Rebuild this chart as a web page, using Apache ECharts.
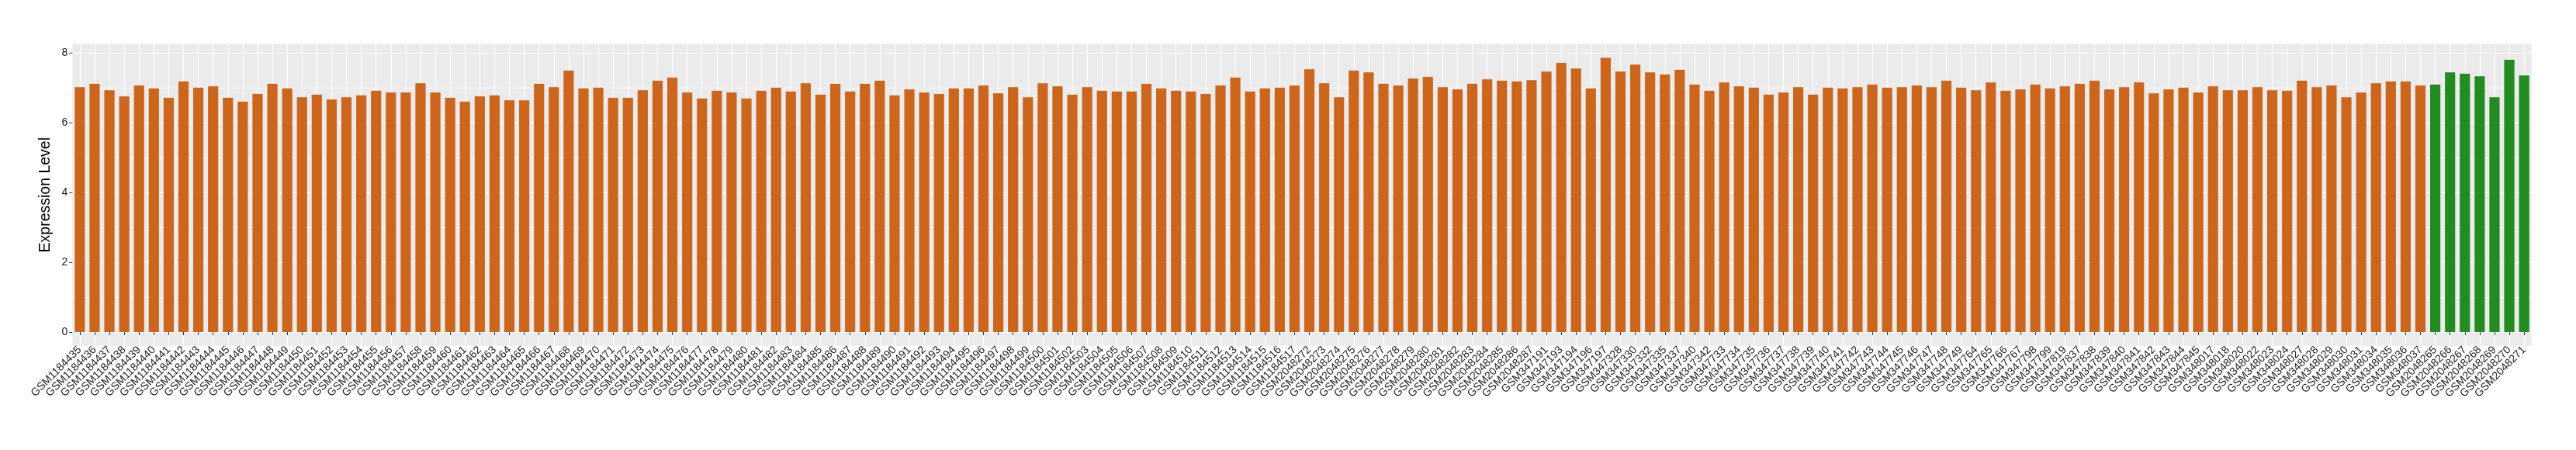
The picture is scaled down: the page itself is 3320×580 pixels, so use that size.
<!DOCTYPE html>
<html>
<head>
<meta charset="utf-8">
<script src="https://cdn.jsdelivr.net/npm/echarts@6/dist/echarts.min.js"></script>
<style>
html,body{margin:0;padding:0;background:#fff;}
#chart{width:3320px;height:580px;}
</style>
</head>
<body>
<div id="chart"></div>
<script>
// ---- data ----
const categories = [
  "GSM1184435","GSM1184436","GSM1184437","GSM1184438","GSM1184439","GSM1184440","GSM1184441","GSM1184442","GSM1184443","GSM1184444",
  "GSM1184445","GSM1184446","GSM1184447","GSM1184448","GSM1184449","GSM1184450","GSM1184451","GSM1184452","GSM1184453","GSM1184454",
  "GSM1184455","GSM1184456","GSM1184457","GSM1184458","GSM1184459","GSM1184460","GSM1184461","GSM1184462","GSM1184463","GSM1184464",
  "GSM1184465","GSM1184466","GSM1184467","GSM1184468","GSM1184469","GSM1184470","GSM1184471","GSM1184472","GSM1184473","GSM1184474",
  "GSM1184475","GSM1184476","GSM1184477","GSM1184478","GSM1184479","GSM1184480","GSM1184481","GSM1184482","GSM1184483","GSM1184484",
  "GSM1184485","GSM1184486","GSM1184487","GSM1184488","GSM1184489","GSM1184490","GSM1184491","GSM1184492","GSM1184493","GSM1184494",
  "GSM1184495","GSM1184496","GSM1184497","GSM1184498","GSM1184499","GSM1184500","GSM1184501","GSM1184502","GSM1184503","GSM1184504",
  "GSM1184505","GSM1184506","GSM1184507","GSM1184508","GSM1184509","GSM1184510","GSM1184511","GSM1184512","GSM1184513","GSM1184514",
  "GSM1184515","GSM1184516","GSM1184517",
  "GSM2048272","GSM2048273","GSM2048274","GSM2048275","GSM2048276","GSM2048277","GSM2048278","GSM2048279","GSM2048280","GSM2048281",
  "GSM2048282","GSM2048283","GSM2048284","GSM2048285","GSM2048286","GSM2048287",
  "GSM347191","GSM347193","GSM347194","GSM347196","GSM347197",
  "GSM347328","GSM347330","GSM347332","GSM347335","GSM347337","GSM347340","GSM347342",
  "GSM347733","GSM347734","GSM347735","GSM347736","GSM347737","GSM347738","GSM347739","GSM347740","GSM347741","GSM347742",
  "GSM347743","GSM347744","GSM347745","GSM347746","GSM347747","GSM347748","GSM347749",
  "GSM347764","GSM347765","GSM347766","GSM347767",
  "GSM347798","GSM347799","GSM347819",
  "GSM347837","GSM347838","GSM347839","GSM347840","GSM347841","GSM347842","GSM347843","GSM347844","GSM347845",
  "GSM348017","GSM348018","GSM348020","GSM348022","GSM348023","GSM348024","GSM348027","GSM348028","GSM348029","GSM348030",
  "GSM348031","GSM348034","GSM348035","GSM348036","GSM348037",
  "GSM2048265","GSM2048266","GSM2048267","GSM2048268","GSM2048269","GSM2048270","GSM2048271"
];

// first group (orange), in category order
const orangeValues = [
  7.03,7.12,6.94,6.76,7.07,6.99,6.72,7.19,7.01,7.05,
  6.72,6.61,6.83,7.12,6.99,6.74,6.81,6.67,6.74,6.79,
  6.92,6.87,6.87,7.14,6.87,6.72,6.61,6.76,6.79,6.65,
  6.65,7.12,7.03,7.50,6.99,7.01,6.72,6.72,6.94,7.21,
  7.30,6.87,6.70,6.92,6.87,6.70,6.92,7.01,6.90,7.14,
  6.81,7.12,6.90,7.12,7.21,6.79,6.96,6.87,6.83,6.99,
  6.99,7.07,6.85,7.03,6.74,7.14,7.05,6.81,7.03,6.92,
  6.90,6.90,7.12,6.99,6.92,6.90,6.83,7.07,7.30,6.90,
  6.99,7.01,7.07,
  7.54,7.14,6.74,7.50,7.45,7.12,7.07,7.27,7.32,7.03,
  6.96,7.12,7.25,7.21,7.19,7.23,7.47,7.72,7.56,6.99,
  7.87,7.47,7.67,7.45,7.39,7.52,7.10,6.92,7.16,7.05,
  7.01,6.81,6.87,7.03,6.81,7.01,6.99,7.03,7.10,7.01,
  7.03,7.07,
  7.03,7.21,7.01,6.94,7.16,6.92,6.96,7.10,6.99,7.05,
  7.12,7.21,6.96,7.03,7.16,6.85,6.96,7.01,6.87,7.05,
  6.94,6.94,7.03,6.94,6.92,7.21,7.03,7.07,6.74,6.87,
  7.14,7.19,7.19,7.07
];
// second group (green), last categories
const greenValues = [7.10,7.45,7.41,7.34,6.74,7.81,7.36];

const yMajorTicks = [0,2,4,6,8];
const yMinorTicks = [1,3,5,7];

// ---- styles ----
const ORANGE = '#CD661D';
const GREEN = '#228B22';
const FONT = 'Liberation Sans';

const allValues = orangeValues.concat(greenValues);
const dataMax = Math.max.apply(null, allValues);
const pad = dataMax * 0.05;
const yMin = -pad, yMax = dataMax + pad;

const seriesData = allValues.map((v, i) => ({
  value: v,
  itemStyle: { color: i < orangeValues.length ? ORANGE : GREEN }
}));

const chart = echarts.init(document.getElementById('chart'), null, {renderer: 'canvas'});
chart.setOption({
  animation: false,
  backgroundColor: '#ffffff',
  grid: {
    left: 93.3, right: 57.3, top: 56.7, bottom: 134.3,
    show: true, backgroundColor: '#EBEBEB', borderWidth: 0
  },
  xAxis: {
    type: 'category',
    data: categories,
    boundaryGap: true,
    axisLine: { show: false },
    axisTick: { show: true, alignWithLabel: true, interval: 0, length: 4, lineStyle: { color: '#333333', width: 1 } },
    axisLabel: { interval: 0, rotate: 45, fontSize: 14, color: '#1A1A1A', margin: 3, fontFamily: FONT },
    splitLine: { show: true, interval: 0, alignWithLabel: true, lineStyle: { color: '#FFFFFF', width: 1.1 } }
  },
  yAxis: [
    {
      type: 'value', min: yMin, max: yMax,
      axisLine: { show: false },
      axisTick: { show: true, length: 4, customValues: yMajorTicks, lineStyle: { color: '#333333', width: 1 } },
      axisLabel: { customValues: yMajorTicks, fontSize: 14, color: '#1A1A1A', margin: 6, fontFamily: FONT },
      splitLine: { show: true, customValues: yMajorTicks, lineStyle: { color: '#FFFFFF', width: 1.1 } },
      name: 'Expression Level', nameLocation: 'middle', nameGap: 18,
      nameTextStyle: { fontSize: 19.5, color: '#000000', fontFamily: FONT }
    },
    {
      type: 'value', min: yMin, max: yMax, position: 'left',
      axisLine: { show: false },
      axisTick: { show: false, customValues: yMinorTicks },
      axisLabel: { show: false, customValues: yMinorTicks },
      splitLine: { show: true, customValues: yMinorTicks, lineStyle: { color: '#FFFFFF', width: 0.55 } }
    }
  ],
  series: [{
    type: 'bar',
    yAxisIndex: 0,
    data: seriesData,
    barWidth: '69%'
  }]
});
</script>
</body>
</html>
